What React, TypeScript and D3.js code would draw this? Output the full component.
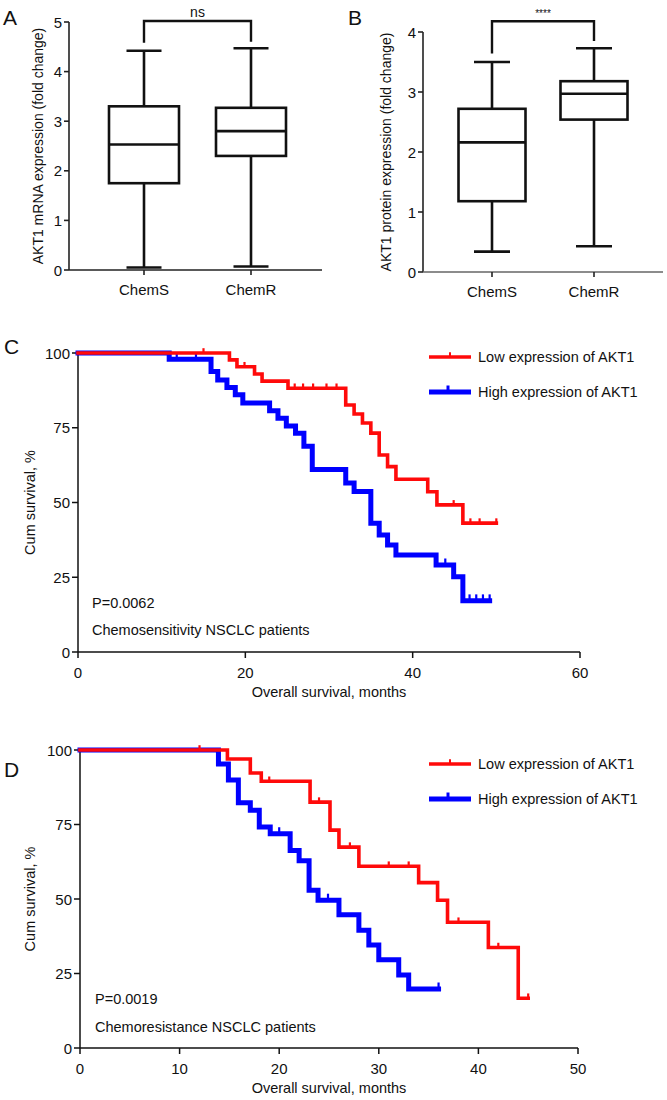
import React from 'react';
import * as d3 from 'd3';

const FONT = '"Liberation Sans", Arial, Helvetica, sans-serif';

// ---------- Box plot data ----------
const boxCategories = ['ChemS', 'ChemR'];
const mrnaMin = [0.05, 0.07];
const mrnaQ1 = [1.75, 2.3];
const mrnaMedian = [2.53, 2.8];
const mrnaQ3 = [3.3, 3.27];
const mrnaMax = [4.42, 4.47];
const mrnaTicks = [0, 1, 2, 3, 4, 5];
const mrnaBracket = 5.02;
const mrnaBracketLegs = [4.58, 4.6];
const mrnaSig = 'ns';

const proteinMin = [0.34, 0.43];
const proteinQ1 = [1.18, 2.54];
const proteinMedian = [2.16, 2.97];
const proteinQ3 = [2.72, 3.18];
const proteinMax = [3.5, 3.73];
const proteinTicks = [0, 1, 2, 3, 4];
const proteinBracket = 4.18;
const proteinBracketLegs = [3.64, 3.85];
const proteinSig = '****';

// ---------- Kaplan-Meier data ----------
const survTicks = [0, 25, 50, 75, 100];
const cTicksX = [0, 20, 40, 60];
const dTicksX = [0, 10, 20, 30, 40, 50];

const cLowTimes = [0, 18.1, 19.0, 21.1, 22.0, 25.1, 32.0, 33.0, 34.0, 35.0, 36.0, 37.0, 38.0, 41.8, 42.9, 46.0];
const cLowSurv = [100, 97.7, 95.4, 93.0, 90.6, 88.2, 82.6, 79.6, 76.6, 73.2, 65.9, 62.0, 57.8, 53.6, 49.2, 43.1];
const cLowEnd = 50.0;
const cLowCensor = [15.0, 19.9, 25.9, 26.9, 28.1, 29.7, 30.9, 44.9, 46.9, 48.0, 50.0];

const cHighTimes = [0, 10.9, 15.9, 16.7, 17.8, 18.8, 19.7, 22.9, 23.9, 24.9, 26.0, 27.0, 28.0, 32.0, 33.0, 35.0, 36.0, 37.0, 38.0, 42.8, 44.9, 46.0];
const cHighSurv = [100, 97.9, 93.8, 91.0, 88.5, 86.0, 83.3, 80.7, 78.2, 75.6, 73.2, 68.8, 61.0, 56.5, 53.7, 43.1, 39.1, 35.8, 32.4, 29.1, 25.2, 17.1];
const cHighEnd = 49.2;
const cHighCensor = [11.8, 14.1, 43.9, 46.8, 47.6, 48.4, 49.2];

const dLowTimes = [0, 14.8, 17.1, 18.2, 23.1, 25.1, 26.0, 28.0, 34.0, 35.9, 36.9, 41.0, 44.0];
const dLowSurv = [100, 97.0, 92.3, 89.5, 82.5, 73.1, 67.4, 61.0, 55.5, 49.6, 42.2, 33.7, 16.7];
const dLowEnd = 45.0;
const dLowCensor = [12.0, 19.0, 24.0, 27.1, 31.0, 33.0, 38.0, 42.0, 45.0];

const dHighTimes = [0, 13.9, 14.9, 15.9, 17.1, 18.0, 19.1, 21.1, 22.0, 23.0, 23.9, 26.0, 28.0, 29.0, 30.0, 32.0, 33.0];
const dHighSurv = [100, 95.3, 89.9, 82.3, 79.8, 74.2, 71.9, 66.3, 62.8, 52.9, 49.6, 44.7, 39.5, 34.6, 29.6, 24.5, 19.8];
const dHighEnd = 36.0;
const dHighCensor = [20.0, 24.9, 36.0];

const legendLabels = ['Low expression of AKT1', 'High expression of AKT1'];
const RED = '#ff0a0a';
const BLUE = '#0000ff';

type BoxProps = {
  mins: number[]; q1: number[]; med: number[]; q3: number[]; maxs: number[];
  ticks: number[]; yMax: number;
  axisLeft: number; axisRight: number; axisTop: number; axisBottom: number;
  centers: [number, number]; boxW: number; capW: number;
  yLabel: string; yLabelX: number;
  bracket: number; legs: number[]; sig: string; sigSize: number; sigY: number;
  letter: string; letterX: number; xAxisColor: string;
};

function BoxPanel(p: BoxProps) {
  const x = d3.scalePoint<string>().domain(boxCategories).range(p.centers);
  const y = d3.scaleLinear().domain([0, p.yMax]).range([p.axisBottom, p.axisTop]);
  const sw = 2.6;
  const midY = (p.axisTop + p.axisBottom) / 2;
  return (
    <g fontFamily={FONT}>
      <text x={p.letterX} y={25} fontSize={21} fill="#111">{p.letter}</text>
      {/* axes */}
      <line x1={p.axisLeft} x2={p.axisLeft} y1={p.axisBottom} y2={y(p.yMax)} stroke="#222" strokeWidth={1.6} />
      <line x1={p.axisLeft} x2={p.axisRight} y1={p.axisBottom} y2={p.axisBottom} stroke={p.xAxisColor} strokeWidth={1.6} />
      {p.ticks.map((t) => (
        <g key={t}>
          <line x1={p.axisLeft - 5} x2={p.axisLeft} y1={y(t)} y2={y(t)} stroke="#222" strokeWidth={1.6} />
          <text x={p.axisLeft - 7} y={y(t) + 5.5} fontSize={15} textAnchor="end" fill="#111">{t}</text>
        </g>
      ))}
      {boxCategories.map((c) => (
        <g key={c}>
          <line x1={x(c)} x2={x(c)} y1={p.axisBottom} y2={p.axisBottom + 5} stroke="#222" strokeWidth={1.6} />
          <text x={x(c)} y={p.axisBottom + 25} fontSize={15} textAnchor="middle" fill="#111">{c}</text>
        </g>
      ))}
      <text transform={`translate(${p.yLabelX},${midY}) rotate(-90)`} fontSize={14} textAnchor="middle" fill="#111">{p.yLabel}</text>
      {/* boxes */}
      {boxCategories.map((c, i) => {
        const cx = x(c) as number;
        return (
          <g key={c} stroke="#111" strokeWidth={sw} fill="none">
            <line x1={cx} x2={cx} y1={y(p.q3[i])} y2={y(p.maxs[i])} />
            <line x1={cx} x2={cx} y1={y(p.q1[i])} y2={y(p.mins[i])} />
            <line x1={cx - p.capW / 2} x2={cx + p.capW / 2} y1={y(p.maxs[i])} y2={y(p.maxs[i])} />
            <line x1={cx - p.capW / 2} x2={cx + p.capW / 2} y1={y(p.mins[i])} y2={y(p.mins[i])} />
            <rect x={cx - p.boxW / 2} y={y(p.q3[i])} width={p.boxW} height={y(p.q1[i]) - y(p.q3[i])} fill="#fff" />
            <line x1={cx - p.boxW / 2} x2={cx + p.boxW / 2} y1={y(p.med[i])} y2={y(p.med[i])} />
          </g>
        );
      })}
      {/* significance bracket */}
      <path
        d={`M${x(boxCategories[0])},${y(p.legs[0])}V${y(p.bracket)}H${x(boxCategories[1])}V${y(p.legs[1])}`}
        fill="none" stroke="#111" strokeWidth={2.4}
      />
      <text x={((x(boxCategories[0]) as number) + (x(boxCategories[1]) as number)) / 2} y={p.sigY} fontSize={p.sigSize} textAnchor="middle" fill="#111">{p.sig}</text>
    </g>
  );
}

type Series = { times: number[]; surv: number[]; end: number; censor: number[]; color: string; width: number; tick: number };

type KMProps = {
  letter: string; letterY: number;
  left: number; right: number; top: number; bottom: number;
  xMax: number; xTicks: number[];
  series: Series[];
  pText: string; groupText: string; textX: number; pY: number; groupY: number;
  legendY: number[];
};

function KMPanel(p: KMProps) {
  const x = d3.scaleLinear().domain([0, p.xMax]).range([p.left, p.right]);
  const y = d3.scaleLinear().domain([0, 100]).range([p.bottom, p.top]);
  const line = d3.line<[number, number]>().x((d) => x(d[0])).y((d) => y(d[1])).curve(d3.curveStepAfter);
  const survAt = (s: Series, t: number) => s.surv[Math.max(0, d3.bisectRight(s.times, t) - 1)];
  return (
    <g fontFamily={FONT}>
      <text x={4} y={p.letterY} fontSize={21} fill="#111">{p.letter}</text>
      <line x1={p.left} x2={p.left} y1={p.bottom} y2={p.top} stroke="#111" strokeWidth={1.5} />
      <line x1={p.left} x2={p.right} y1={p.bottom} y2={p.bottom} stroke="#111" strokeWidth={1.5} />
      {survTicks.map((t) => (
        <g key={t}>
          <line x1={p.left - 6} x2={p.left} y1={y(t)} y2={y(t)} stroke="#111" strokeWidth={1.5} />
          <text x={p.left - 8} y={y(t) + 5.5} fontSize={15} textAnchor="end" fill="#111">{t}</text>
        </g>
      ))}
      {p.xTicks.map((t) => (
        <g key={t}>
          <line x1={x(t)} x2={x(t)} y1={p.bottom} y2={p.bottom + 6} stroke="#111" strokeWidth={1.5} />
          <text x={x(t)} y={p.bottom + 26} fontSize={15} textAnchor="middle" fill="#111">{t}</text>
        </g>
      ))}
      <text x={(p.left + p.right) / 2} y={p.bottom + 45} fontSize={14.5} textAnchor="middle" fill="#111">Overall survival, months</text>
      <text transform={`translate(35,${(p.top + p.bottom) / 2}) rotate(-90)`} fontSize={14.5} textAnchor="middle" fill="#111">Cum survival, %</text>
      <text x={p.textX} y={p.pY} fontSize={14.5} fill="#111">{p.pText}</text>
      <text x={p.textX} y={p.groupY} fontSize={14.5} fill="#111">{p.groupText}</text>
      {p.series.map((s, i) => {
        const pts: [number, number][] = s.times.map((t, k) => [t, s.surv[k]] as [number, number]);
        pts.push([s.end, s.surv[s.surv.length - 1]]);
        return (
          <g key={i}>
            <path d={line(pts) || ''} fill="none" stroke={s.color} strokeWidth={s.width} strokeLinejoin="miter" strokeLinecap="square" />
            {s.censor.map((t, k) => (
              <line key={k} x1={x(t)} x2={x(t)} y1={y(survAt(s, t))} y2={y(survAt(s, t)) - s.width / 2 - s.tick} stroke={s.color} strokeWidth={2.2} />
            ))}
          </g>
        );
      })}
      {/* legend */}
      {[...p.series].reverse().map((s, i) => (
        <g key={i}>
          <line x1={429} x2={471} y1={p.legendY[i]} y2={p.legendY[i]} stroke={s.color} strokeWidth={s.width} />
          <line x1={i === 0 ? 450 : 448} x2={i === 0 ? 450 : 448} y1={p.legendY[i]} y2={p.legendY[i] - s.width / 2 - s.tick} stroke={s.color} strokeWidth={i === 0 ? 2 : 3} />
          <text x={478} y={p.legendY[i] + 5} fontSize={14.5} fill="#111">{legendLabels[i]}</text>
        </g>
      ))}
    </g>
  );
}

export default function App() {
  const cSeries: Series[] = [
    { times: cHighTimes, surv: cHighSurv, end: cHighEnd, censor: cHighCensor, color: BLUE, width: 5, tick: 4 },
    { times: cLowTimes, surv: cLowSurv, end: cLowEnd, censor: cLowCensor, color: RED, width: 3.6, tick: 3 },
  ];
  const dSeries: Series[] = [
    { times: dHighTimes, surv: dHighSurv, end: dHighEnd, censor: dHighCensor, color: BLUE, width: 5, tick: 4 },
    { times: dLowTimes, surv: dLowSurv, end: dLowEnd, censor: dLowCensor, color: RED, width: 3.6, tick: 3 },
  ];
  return (
    <svg width={667} height={1100} style={{ position: 'absolute', left: 0, top: 0, background: '#fff' }}>
      <rect x={0} y={0} width={667} height={1100} fill="#fff" />
      <BoxPanel
        mins={mrnaMin} q1={mrnaQ1} med={mrnaMedian} q3={mrnaQ3} maxs={mrnaMax}
        ticks={mrnaTicks} yMax={5}
        axisLeft={69} axisRight={322} axisTop={22} axisBottom={270}
        centers={[144, 251]} boxW={70} capW={35}
        yLabel="AKT1 mRNA expression (fold change)" yLabelX={43}
        bracket={mrnaBracket} legs={mrnaBracketLegs} sig={mrnaSig} sigSize={14} sigY={17}
        letter="A" letterX={3} xAxisColor="#222"
      />
      <BoxPanel
        mins={proteinMin} q1={proteinQ1} med={proteinMedian} q3={proteinQ3} maxs={proteinMax}
        ticks={proteinTicks} yMax={4}
        axisLeft={423} axisRight={663} axisTop={32} axisBottom={272}
        centers={[492, 594]} boxW={67} capW={36}
        yLabel="AKT1 protein expression (fold change)" yLabelX={391}
        bracket={proteinBracket} legs={proteinBracketLegs} sig={proteinSig} sigSize={10} sigY={17}
        letter="B" letterX={348} xAxisColor="#666"
      />
      <KMPanel
        letter="C" letterY={354}
        left={78} right={580} top={353} bottom={652}
        xMax={60} xTicks={cTicksX} series={cSeries}
        pText="P=0.0062" groupText="Chemosensitivity NSCLC patients" textX={92} pY={608} groupY={635}
        legendY={[357, 392]}
      />
      <KMPanel
        letter="D" letterY={777}
        left={80} right={578} top={750} bottom={1048}
        xMax={50} xTicks={dTicksX} series={dSeries}
        pText="P=0.0019" groupText="Chemoresistance NSCLC patients" textX={95} pY={1004} groupY={1032}
        legendY={[764, 799]}
      />
    </svg>
  );
}
